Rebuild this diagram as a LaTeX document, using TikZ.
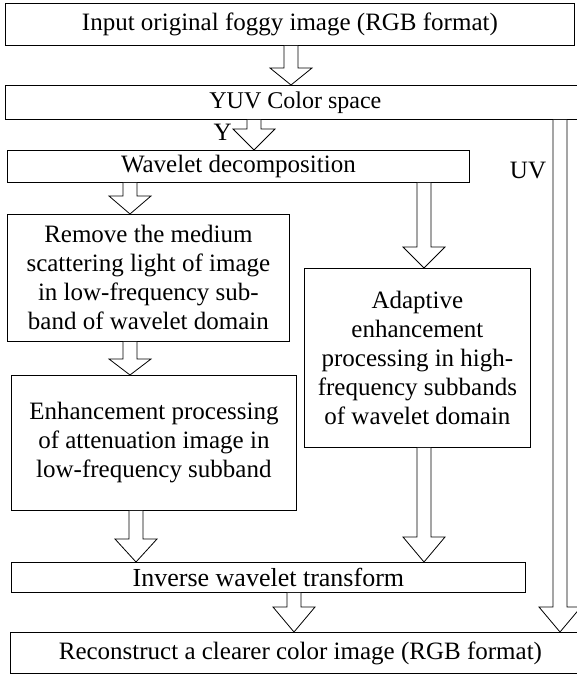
\documentclass[tikz,border=0pt]{standalone}
\usepackage{fontspec}
\setmainfont{Liberation Serif}
\usetikzlibrary{calc}
\tikzset{
  procbox/.style={draw,line width=0.8pt,rectangle,anchor=north west,inner sep=0pt,align=center,font=\fontsize{25}{29}\selectfont},
  blockline/.style={draw,line width=0.8pt,fill=white,line join=miter},
}
% hollow block arrow: head length, x, from node, to node
\newcommand{\blockarrow}[4]{%
  \draw[blockline] let \p1=(#2,0 |- #3.south), \p2=(#2,0 |- #4.north) in
    (\x1-7pt,\y1) -- (\x1-7pt,\y2+#1pt) -- (\x1-21pt,\y2+#1pt) -- (\x1,\y2)
    -- (\x1+21pt,\y2+#1pt) -- (\x1+7pt,\y2+#1pt) -- (\x1+7pt,\y1);}

\begin{document}
\begin{tikzpicture}[x=1pt,y=-1pt]
  \clip (0,0) rectangle (577,675);
  \node[procbox,minimum width=569,minimum height=42] (input) at (5,3) {Input original foggy image (RGB format)};
  \node[procbox,minimum width=580,minimum height=34,font=\fontsize{24}{28}\selectfont] (yuv) at (5,85) {YUV Color space};
  \node[procbox,minimum width=462,minimum height=32] (wav) at (7,150) {Wavelet decomposition};
  \node[procbox,minimum width=282,minimum height=127] (remove) at (7,214) {Remove the medium\\scattering light of image\\in low-frequency sub-\\band of wavelet domain};
  \node[procbox,minimum width=285,minimum height=135] (enh) at (11,375) {Enhancement processing\\of attenuation image in\\low-frequency subband};
  \node[procbox,minimum width=226,minimum height=179] (adapt) at (304,268) {Adaptive\\enhancement\\processing in high-\\frequency subbands\\of wavelet domain};
  \node[procbox,minimum width=514,minimum height=30,font=\fontsize{26}{30}\selectfont] (inv) at (11,562) {Inverse wavelet transform};
  \node[procbox,minimum width=580,minimum height=41] (rec) at (10,632) {Reconstruct a clearer color image (RGB format)};

  \blockarrow{17}{291}{input}{yuv}
  \blockarrow{21}{254}{yuv}{wav}
  \blockarrow{18}{130}{wav}{remove}
  \blockarrow{21}{424}{wav}{adapt}
  \blockarrow{16}{130}{remove}{enh}
  \blockarrow{23}{136}{enh}{inv}
  \blockarrow{25}{424}{adapt}{inv}
  \blockarrow{25}{560}{yuv}{rec}
  \blockarrow{25}{294}{inv}{rec}

  \node[font=\fontsize{25}{28}\selectfont,anchor=east,inner sep=1pt] (ylabel) at (233,132) {Y};
  \node[font=\fontsize{25}{28}\selectfont,inner sep=0pt] (uvlabel) at (528,171) {UV};
\end{tikzpicture}
\end{document}
